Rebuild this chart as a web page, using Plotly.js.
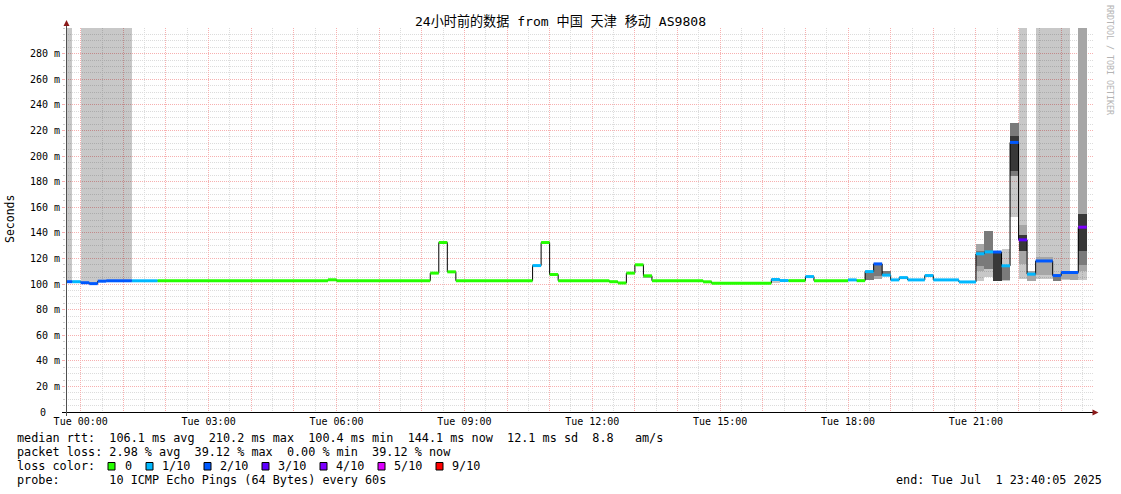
<!DOCTYPE html>
<html><head><meta charset="utf-8">
<script src="https://cdn.plot.ly/plotly-3.0.1.min.js"></script>
<style>html,body{margin:0;padding:0;background:#fff}#chart{width:1121px;height:494px}</style>
</head><body><div id="chart"></div>
<script>
// ---------------- data ----------------
const titleText = "24小时前的数据 from 中国 天津 移动 AS9808";

// median RTT steps (ms) – each step runs to the next start
const segStart = [
  "2025-06-30 23:36","2025-06-30 23:48","2025-07-01 00:00","2025-07-01 00:12","2025-07-01 00:24",
  "2025-07-01 00:36","2025-07-01 01:12","2025-07-01 01:48","2025-07-01 05:48","2025-07-01 06:00",
  "2025-07-01 08:12","2025-07-01 08:24","2025-07-01 08:36","2025-07-01 08:48","2025-07-01 10:36",
  "2025-07-01 10:48","2025-07-01 11:00","2025-07-01 11:12","2025-07-01 12:24","2025-07-01 12:36",
  "2025-07-01 12:48","2025-07-01 13:00","2025-07-01 13:12","2025-07-01 13:24","2025-07-01 14:36",
  "2025-07-01 14:48","2025-07-01 16:12","2025-07-01 16:24","2025-07-01 16:36","2025-07-01 17:00",
  "2025-07-01 17:12","2025-07-01 18:00","2025-07-01 18:12","2025-07-01 18:24","2025-07-01 18:36",
  "2025-07-01 18:48","2025-07-01 19:00","2025-07-01 19:12","2025-07-01 19:24","2025-07-01 19:48",
  "2025-07-01 20:00","2025-07-01 20:36","2025-07-01 21:00","2025-07-01 21:12","2025-07-01 21:24",
  "2025-07-01 21:36","2025-07-01 21:48","2025-07-01 22:00","2025-07-01 22:12","2025-07-01 22:24",
  "2025-07-01 22:48","2025-07-01 23:00","2025-07-01 23:24"
];
const segLastEnd = "2025-07-01 23:36";
const segMedian = [
  101.8,101.8,101.0,100.3,102.2, 102.5,102.5,102.5,103.3,102.6,
  108.5,132.4,109.5,102.6,114.4, 132.4,107.4,102.6,101.8,100.8,
  108.5,115.0,106.4,102.6,101.7, 100.6,103.5,102.7,102.6,105.8,
  102.6,103.2,102.6,109.7,115.7, 106.9,103.2,105.0,103.2,106.6,
  103.2,101.6,123.6,125.1,125.0, 114.2,210.6,134.5,107.7,118.0,
  106.6,109.0,144.4
];
// packet loss per step, in tenths
const segLoss = [
  2,1,2,2,2, 2,1,0,0,0,
  0,0,0,0,1, 0,0,0,0,0,
  0,0,0,0,0, 0,1,1,0,1,
  0,1,0,1,2, 1,1,1,1,1,
  1,1,1,1,2, 1,2,3,1,2,
  2,2,4
];

// smoke (ping spread) bands: start, end, low, high (ms), band level 1=outer .. 4=inner
const smokeStart = [
  "2025-06-30 23:36","2025-07-01 00:00","2025-07-01 00:12","2025-07-01 00:24","2025-07-01 00:36",
  "2025-07-01 13:12","2025-07-01 16:12","2025-07-01 18:24","2025-07-01 18:36","2025-07-01 18:36",
  "2025-07-01 18:48","2025-07-01 21:00","2025-07-01 21:00","2025-07-01 21:00","2025-07-01 21:12",
  "2025-07-01 21:12","2025-07-01 21:24","2025-07-01 21:36","2025-07-01 21:36","2025-07-01 21:48",
  "2025-07-01 21:48","2025-07-01 21:48","2025-07-01 22:00","2025-07-01 22:00","2025-07-01 22:00",
  "2025-07-01 22:12","2025-07-01 22:24","2025-07-01 22:24","2025-07-01 22:48","2025-07-01 22:48",
  "2025-07-01 23:00","2025-07-01 23:00","2025-07-01 23:12","2025-07-01 23:24","2025-07-01 23:24",
  "2025-07-01 23:24","2025-07-01 23:24"
];
const smokeEnd = [
  "2025-06-30 23:48","2025-07-01 00:12","2025-07-01 00:24","2025-07-01 00:36","2025-07-01 01:12",
  "2025-07-01 13:24","2025-07-01 16:24","2025-07-01 18:36","2025-07-01 18:48","2025-07-01 18:48",
  "2025-07-01 19:00","2025-07-01 21:12","2025-07-01 21:12","2025-07-01 21:12","2025-07-01 21:24",
  "2025-07-01 21:24","2025-07-01 21:36","2025-07-01 21:48","2025-07-01 21:48","2025-07-01 22:00",
  "2025-07-01 22:00","2025-07-01 22:00","2025-07-01 22:12","2025-07-01 22:12","2025-07-01 22:12",
  "2025-07-01 22:24","2025-07-01 22:48","2025-07-01 22:48","2025-07-01 23:00","2025-07-01 23:00",
  "2025-07-01 23:12","2025-07-01 23:12","2025-07-01 23:24","2025-07-01 23:36","2025-07-01 23:36",
  "2025-07-01 23:36","2025-07-01 23:36"
];
const smokeLo = [
  101.8,101.0,100.3,102.2,102.5, 104.5,101.0,103.0,104.0,106.5,
  107.0,102.4,110.0,114.0,105.8, 112.0,102.0,102.0,103.0,152.7,
  184.0,188.0,104.0,115.8,126.0, 102.5,104.0,107.0,102.5,102.5,
  103.0,104.0,103.0,103.0,110.0, 115.0,126.0
];
const smokeHi = [
  300,300,300,300,300, 106.4,103.5,110.0,116.0,116.0,
  110.0,131.4,131.4,126.0,141.5, 141.5,125.0,127.5,113.0,226.0,
  226.0,216.0,300,146.0,138.0, 110.0,300,121.0,300,106.5,
  300,109.0,109.0,300,300, 154.5,154.5
];
const smokeBand = [
  1,1,1,1,1, 2,1,3,2,3,
  3,1,2,3,1, 3,4,1,3,1,
  3,4,1,2,4, 2,1,2,1,3,
  1,2,2,1,2, 3,4
];

const lossLevels = [0,1,2,3,4,5,9];
const lossLabels = ["0","1/10","2/10","3/10","4/10","5/10","9/10"];
const lossColors = ["#26ff00","#00b8ff","#0059ff","#5e00ff","#7e00ff","#dd00ff","#ff0000"];

const yTickVals = [0,20,40,60,80,100,120,140,160,180,200,220,240,260,280];
const yTickText = ["0","20 m","40 m","60 m","80 m","100 m","120 m","140 m","160 m","180 m","200 m","220 m","240 m","260 m","280 m"];
const xLabelHours = ["00:00","03:00","06:00","09:00","12:00","15:00","18:00","21:00"];
const xDay = "2025-07-01";
const xDayName = "Tue";

const statLines = [
  "median rtt:  106.1 ms avg  210.2 ms max  100.4 ms min  144.1 ms now  12.1 ms sd  8.8   am/s",
  "packet loss: 2.98 % avg  39.12 % max  0.00 % min  39.12 % now",
  "loss color:",
  "probe:       10 ICMP Echo Pings (64 Bytes) every 60s"
];
const endText = "end: Tue Jul  1 23:40:05 2025";
const sideText = "RRDTOOL / TOBI OETIKER";
const yTitle = "Seconds";

// ---------------- helpers ----------------
function toMs(s){
  const [d,t] = s.split(" ");
  const [Y,M,D] = d.split("-").map(Number);
  const [h,m,sec] = t.split(":").map(Number);
  return Date.UTC(Y,M-1,D,h,m,sec||0);
}
const nb = s => s.replace(/ /g, "\u00a0");
const W=1121, H=494, ML=66, MR=28, MT=28, MB=82;
const PW=W-ML-MR, PH=H-MT-MB;
const pxX = px => (px-ML)/PW;
const pxY = py => (H-MB-py)/PH;
const MONO = "DejaVu Sans Mono, Noto Sans CJK SC, monospace";

// ---------------- traces ----------------
const traces = [];
const bandColors = {1:"rgba(0,0,0,0.215)",2:"#a6a6a6",3:"#7a7a7a",4:"#383838"};
[1,2,3,4].forEach(b=>{
  const idx = smokeBand.map((v,i)=>v===b?i:-1).filter(i=>i>=0);
  if(!idx.length) return;
  traces.push({
    type:"bar",
    x: idx.map(i=>(toMs(smokeStart[i])+toMs(smokeEnd[i]))/2),
    width: idx.map(i=>toMs(smokeEnd[i])-toMs(smokeStart[i])),
    base: idx.map(i=>smokeLo[i]),
    y: idx.map(i=>smokeHi[i]-smokeLo[i]),
    marker:{color:bandColors[b], line:{width:0}},
    hoverinfo:"skip", showlegend:false
  });
});

// black step line of median
const stepX = segStart.map(toMs).concat([toMs(segLastEnd)]);
const stepY = segMedian.concat([segMedian[segMedian.length-1]]);
traces.push({type:"scatter", mode:"lines", x:stepX, y:stepY,
  line:{color:"#000", width:1, shape:"hv"}, hoverinfo:"skip", showlegend:false});

// loss-coloured median segments
lossLevels.forEach((lv,k)=>{
  const xs=[], ys=[];
  segStart.forEach((s,i)=>{
    if(segLoss[i]!==lv) return;
    const e = i+1<segStart.length ? segStart[i+1] : segLastEnd;
    xs.push(toMs(s), toMs(e), null);
    ys.push(segMedian[i], segMedian[i], null);
  });
  if(!xs.length) return;
  traces.push({type:"scatter", mode:"lines", x:xs, y:ys, connectgaps:false,
    line:{color:lossColors[k], width:3}, hoverinfo:"skip", showlegend:false});
});

// ---------------- layout ----------------
const MAJ = "#f7b0b0", MIN = "#dcdcdc";
const hourVals=[], hourText=[];
for(let h=0; h<24; h++){
  const hh = (h<10?"0":"")+h+":00";
  hourVals.push(toMs(xDay+" "+hh));
  hourText.push(xLabelHours.includes(hh) ? xDayName+" "+hh : "");
}

const shapes = [
  {type:"line", xref:"paper", yref:"paper", x0:pxX(62), x1:pxX(1093), y0:pxY(412.5), y1:pxY(412.5), line:{color:"#000", width:1}},
  {type:"line", xref:"paper", yref:"paper", x0:pxX(66.5), x1:pxX(66.5), y0:pxY(416), y1:pxY(25), line:{color:"#505050", width:1}},
  {type:"path", xref:"paper", yref:"paper", fillcolor:"#8b1a1a", line:{width:0},
   path:`M ${pxX(66.5)} ${pxY(20)} L ${pxX(63.5)} ${pxY(26)} L ${pxX(69.5)} ${pxY(26)} Z`},
  {type:"path", xref:"paper", yref:"paper", fillcolor:"#8b1a1a", line:{width:0},
   path:`M ${pxX(1098.5)} ${pxY(412.5)} L ${pxX(1092.5)} ${pxY(409.5)} L ${pxX(1092.5)} ${pxY(415.5)} Z`}
];

const rowY = [438, 452, 466, 480];
const annotations = [];
statLines.forEach((t,i)=>{
  annotations.push({xref:"paper", yref:"paper", x:pxX(15), y:pxY(rowY[i]), xanchor:"left", yanchor:"middle",
    text:nb(t), showarrow:false, font:{family:MONO, size:11.8, color:"#000"}});
});
const sqX = [108, 146, 204, 262, 320, 378, 436];
const lblX = [122.5, 160.3, 218.2, 276.3, 333.6, 391.6, 449.6];
lossLevels.forEach((lv,k)=>{
  shapes.push({type:"rect", xref:"paper", yref:"paper",
    x0:pxX(sqX[k]), x1:pxX(sqX[k]+7), y0:pxY(rowY[2]-3.5), y1:pxY(rowY[2]+4),
    fillcolor:lossColors[k], line:{color:"#000", width:1}});
  annotations.push({xref:"paper", yref:"paper", x:pxX(lblX[k]), y:pxY(rowY[2]), xanchor:"left", yanchor:"middle",
    text:lossLabels[k], showarrow:false, font:{family:MONO, size:11.8, color:"#000"}});
});
annotations.push({xref:"paper", yref:"paper", x:pxX(1104), y:pxY(rowY[3]), xanchor:"right", yanchor:"middle",
  text:nb(endText), showarrow:false, font:{family:MONO, size:11.8, color:"#000"}});
annotations.push({xref:"paper", yref:"paper", x:pxX(10), y:pxY(219), xanchor:"center", yanchor:"middle",
  text:yTitle, textangle:-90, showarrow:false, font:{family:MONO, size:11.5, color:"#000"}});
annotations.push({xref:"paper", yref:"paper", x:pxX(1110), y:pxY(60), xanchor:"center", yanchor:"middle",
  text:nb(sideText), textangle:90, showarrow:false, font:{family:MONO, size:8.3, color:"#b4b4b4"}});
// zero label of the y axis sits in the digit column, as in the reference
annotations.push({xref:"paper", yref:"paper", x:pxX(48), y:pxY(412), xanchor:"right", yanchor:"middle",
  text:yTickText[0], showarrow:false, font:{family:MONO, size:10, color:"#000"}});

const layout = {
  width:W, height:H,
  margin:{l:ML, r:MR, t:MT, b:MB, pad:0},
  paper_bgcolor:"#fff", plot_bgcolor:"#fff",
  showlegend:false, hovermode:false, barmode:"overlay", bargap:0,
  title:{text:titleText, x:0.5, xref:"container", xanchor:"center",
    y:1-21/H, yref:"container", yanchor:"middle",
    font:{family:MONO, size:13.1, color:"#000"}},
  xaxis:{type:"date",
    range:[toMs("2025-06-30 23:39:19"), toMs("2025-07-01 23:44:45")],
    tickmode:"array", tickvals:hourVals, ticktext:hourText,
    showgrid:true, gridcolor:MAJ, gridwidth:1, griddash:"1px,1px",
    minor:{dtick:1800000, tick0:toMs("2025-07-01 00:00"), showgrid:true, gridcolor:MIN, gridwidth:1, griddash:"1px,1px"},
    ticks:"", ticklabelstandoff:2, showline:false, zeroline:false, fixedrange:true,
    tickfont:{family:MONO, size:10, color:"#000"}},
  yaxis:{range:[0,300], tickmode:"array", tickvals:yTickVals,
    ticktext:yTickText.map((t,i)=>i===0?"":nb(t)),
    showgrid:true, gridcolor:MAJ, gridwidth:1, griddash:"1px,1px",
    minor:{dtick:5, showgrid:true, gridcolor:MIN, gridwidth:1, griddash:"1px,1px", ticks:"outside", ticklen:2, tickcolor:"#cccccc"},
    ticks:"outside", ticklen:3, tickcolor:"#f7b0b0",
    showline:false, zeroline:false, fixedrange:true,
    tickfont:{family:MONO, size:10, color:"#000"}},
  shapes:shapes, annotations:annotations
};

Plotly.newPlot("chart", traces, layout, {staticPlot:true, displayModeBar:false});
</script>
</body></html>
